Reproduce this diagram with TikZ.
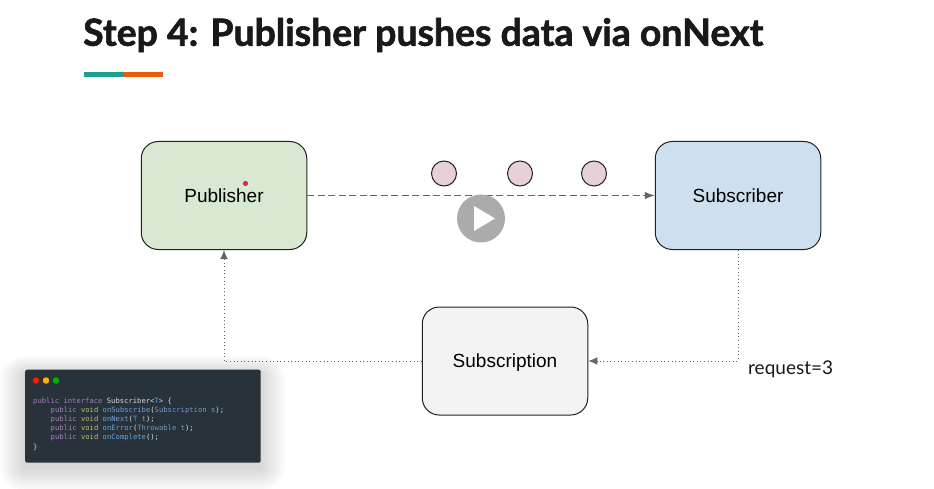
\documentclass[tikz,border=0pt]{standalone}
\usepackage{fontspec}
\setmainfont{Liberation Sans}
\newfontfamily\titlefont[BoldFeatures={FakeBold=1.6}]{Lato}
\newfontfamily\codefont{DejaVu Sans Mono}
\usetikzlibrary{arrows.meta,positioning}
\definecolor{pubfill}{HTML}{D8E8D3}
\definecolor{subfill}{HTML}{CEE0F0}
\definecolor{scnfill}{HTML}{F3F3F3}
\definecolor{dotfill}{HTML}{E8D0DA}
\definecolor{edgecol}{HTML}{222222}
\definecolor{linecol}{HTML}{666666}
\definecolor{panel}{HTML}{27323A}
\definecolor{kwcol}{HTML}{A87FBE}
\definecolor{vdcol}{HTML}{C0B96E}
\definecolor{fncol}{HTML}{6FA3DC}
\definecolor{tycol}{HTML}{6E9BC8}
\definecolor{plain}{HTML}{D5D9DC}
\definecolor{barteal}{HTML}{1FA08A}
\definecolor{barorange}{HTML}{E85D0C}
\definecolor{laser}{HTML}{E0283C}
\tikzset{
  x=1pt,y=-1pt,
  flowbox/.style={draw=edgecol,line width=1pt,rounded corners=17pt,minimum width=165.5pt,minimum height=108pt,inner sep=0pt,text height=13.6pt,text depth=0pt,font=\fontsize{19}{23}\selectfont,text=black},
  token/.style={circle,draw=edgecol,line width=1pt,fill=dotfill,minimum size=25pt,inner sep=0pt},
  dashline/.style={draw=linecol,line width=1pt,dash pattern=on 7pt off 3.5pt,-{Latex[length=10pt,width=7.5pt]}},
  dotline/.style={draw=linecol,line width=0.9pt,dash pattern=on 1pt off 2.6pt},
  dothead/.style={-{Latex[length=9pt,width=7.5pt]}},
  codeline/.style={anchor=west,inner sep=0pt,font=\codefont\fontsize{7.2}{8}\selectfont},
  winbtn/.style={circle,minimum size=6.5pt,inner sep=0pt},
}
\begin{document}
\begin{tikzpicture}
\useasboundingbox (0,0) rectangle (934,489);
\fill[white] (0,0) rectangle (934,489);
% title
\node[anchor=west,inner sep=0pt,font=\titlefont\bfseries\fontsize{37.4}{41}\selectfont,text=black!90] (title) at (83,35) {Step 4: Publisher pushes data via onNext};
\fill[barteal] (84,72.5) rectangle (124,77);
\fill[barorange] (124,72.5) rectangle (163,77);
% boxes
\node[flowbox,fill=pubfill] (pub) at (224,195.5) {Publisher};
\node[flowbox,fill=subfill] (sub) at (738,195.5) {Subscriber};
\node[flowbox,fill=scnfill] (scn) at (505,361) {Subscription};
\fill[laser] (245.5,183.5) circle (2.6pt);
% tokens
\node[token] (t1) at (444,173.5) {};
\node[token] (t2) at (520,173.5) {};
\node[token] (t3) at (594,173.5) {};
% connectors
\draw[dashline] (pub.east) -- (sub.west);
\draw[dotline,dothead] (sub.south) |- (scn.east);
\draw[dotline,dothead] (scn.west) -| (pub.south);
\node[anchor=west,inner sep=0pt,font=\titlefont\fontsize{19}{23}\selectfont,text=black!90] (req) at (748,369) {request=3};
% play button
\node[circle,fill=black!33,minimum size=48pt,inner sep=0pt] (play) at (481,218.5) {};
\fill[white] (474,206) -- (495,218.5) -- (474,231) -- cycle;
% code window shadow
\foreach \g in {26,24,...,2}{
  \fill[black,opacity=0.013,rounded corners=\g pt] (25-\g,369+5-\g*0.7) rectangle (260+\g,462+6+\g*0.9);
}
\node[fill=panel,rounded corners=2pt,minimum width=235.5pt,minimum height=93pt,anchor=north west,inner sep=0pt] (win) at (25,369.5) {};
\node[winbtn,fill=red!80!orange] (b1) at (36,380.5) {};
\node[winbtn,fill=orange!60!yellow] (b2) at (46,380.5) {};
\node[winbtn,fill=green!70!black] (b3) at (56,380.5) {};
\node[codeline] (c1) at (33,401) {\color{kwcol}public interface \color{plain}Subscriber<\color{fncol}T\color{plain}> \{};
\node[codeline] (c2) at (50.5,410) {\color{kwcol}public \color{vdcol}void \color{fncol}onSubscribe\color{plain}(\color{tycol}Subscription s\color{plain});};
\node[codeline] (c3) at (50.5,419.5) {\color{kwcol}public \color{vdcol}void \color{fncol}onNext\color{plain}(\color{tycol}T t\color{plain});};
\node[codeline] (c4) at (50.5,428.5) {\color{kwcol}public \color{vdcol}void \color{fncol}onError\color{plain}(\color{tycol}Throwable t\color{plain});};
\node[codeline] (c5) at (50.5,437.5) {\color{kwcol}public \color{vdcol}void \color{fncol}onComplete\color{plain}();};
\node[codeline] (c6) at (33,447) {\color{plain}\}};
\end{tikzpicture}
\end{document}
